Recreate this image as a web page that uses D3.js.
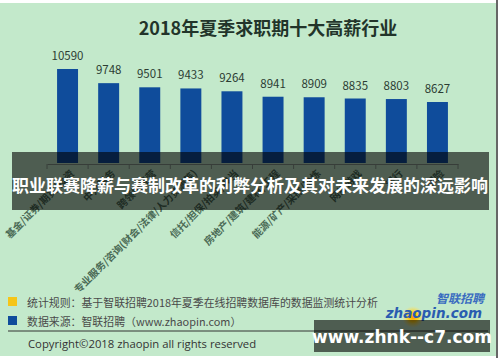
<!DOCTYPE html>
<html><head><meta charset="utf-8">
<script src="https://cdn.jsdelivr.net/npm/d3@7"></script>
<style>html,body{margin:0;padding:0;background:#fff;}svg{display:block;}</style>
</head><body>
<script>
const title = "2018年夏季求职期十大高薪行业";
const categories = ["基金/证券/期货/投资","中介服务","跨领域经营","专业服务/咨询(财会/法律/人力资源等)","信托/担保/拍卖/典当","房地产/建筑/建材/工程","能源/矿产/采掘/冶炼","网络游戏","银行","保险"];
const values = [10590, 9748, 9501, 9433, 9264, 8941, 8909, 8835, 8803, 8627];
const legendItems = ["统计规则：基于智联招聘2018年夏季在线招聘数据库的数据监测统计分析", "数据来源：智联招聘（www.zhaopin.com）"];
const legendColors = ["#f5c518", "#0f4c9b"];
const copyright = "Copyright©2018 zhaopin all rights reserved";
const overlayTitle = "职业联赛降薪与赛制改革的利弊分析及其对未来发展的深远影响";
const watermark = "www.zhnk--c7.com";

const W = 500, H = 362;
const FONT = "'Noto Sans CJK SC','Noto Sans',sans-serif";
const svg = d3.select("body").append("svg").attr("width", W).attr("height", H)
  .style("font-family", FONT);

svg.append("rect").attr("x",0).attr("y",3).attr("width",496).attr("height",353).attr("fill","#c3e9cb");
svg.append("line").attr("x1",497).attr("x2",497).attr("y1",0).attr("y2",358).attr("stroke","#333").attr("stroke-width",1.5);

svg.append("text").attr("x",268).attr("y",27).attr("text-anchor","middle").attr("dominant-baseline","central")
  .attr("font-size",18).attr("font-weight","bold").attr("fill","#22342a").text(title);

const x = d3.scaleBand().domain(categories).range([47, 458]).paddingInner(0.49).paddingOuter(0.245);
const y = d3.scaleLinear().domain([5000, 11000]).range([163, 62.1]);

const g = svg.append("g");
g.selectAll("rect.bar").data(values).join("rect").attr("class","bar")
  .attr("x",(d,i)=>x(categories[i])).attr("width",x.bandwidth())
  .attr("y",d=>y(d)).attr("height",d=>y(5000)-y(d)).attr("fill","#0f4c9b");

g.selectAll("text.val").data(values).join("text").attr("class","val")
  .attr("x",(d,i)=>x(categories[i])+x.bandwidth()/2).attr("y",d=>y(d)-14)
  .attr("text-anchor","middle").attr("dominant-baseline","central")
  .attr("font-size",11.5).attr("fill","#2c3d33").text(d=>d);

// axis
const axis = d3.axisBottom(x).tickSize(0).tickFormat("");
const ax = svg.append("g").attr("transform","translate(0,164)").call(axis);
ax.select(".domain").attr("stroke","#8a9a8f").attr("stroke-width",1);
const step = x.step();
const bounds = d3.range(categories.length+1).map(i=>47+i*step);
ax.selectAll("line.tk").data(bounds).join("line").attr("class","tk")
  .attr("x1",d=>d).attr("x2",d=>d).attr("y1",0).attr("y2",5).attr("stroke","#8a9a8f");

svg.append("g").selectAll("text.cat").data(categories).join("text").attr("class","cat")
  .attr("transform",(d)=>`translate(${x(d)+x.bandwidth()/2+4},${171}) rotate(-45)`)
  .attr("text-anchor","end").attr("dominant-baseline","central")
  .attr("font-size",10).attr("font-weight","bold").attr("fill","#4b6b56").text(d=>d);

// overlay banner
svg.append("rect").attr("x",12).attr("y",152).attr("width",477).attr("height",58).attr("fill","#000").attr("opacity",0.6);
svg.append("text").attr("x",250).attr("y",184).attr("text-anchor","middle").attr("dominant-baseline","central")
  .attr("font-size",17).attr("font-weight","bold").attr("fill","#fff").text(overlayTitle);

// legend
const lg = svg.append("g");
legendItems.forEach((t,i)=>{
  lg.append("rect").attr("x",8).attr("y",297+i*19).attr("width",9).attr("height",9).attr("fill",legendColors[i]);
  lg.append("text").attr("x",27).attr("y",302+i*19).attr("dominant-baseline","central")
    .attr("font-size",10.9).attr("fill","#4a4a4a").text(t);
});
svg.append("line").attr("x1",8).attr("x2",488).attr("y1",331).attr("y2",331).attr("stroke","#333").attr("stroke-width",1);
svg.append("text").attr("x",28).attr("y",343).attr("dominant-baseline","central")
  .attr("font-size",11.3).attr("fill","#333").style("font-family","'Open Sans',sans-serif").text(copyright);

// logo
const defs = svg.append("defs");
const rg = defs.append("radialGradient").attr("id","glow");
rg.append("stop").attr("offset","0%").attr("stop-color","#ff9a00");
rg.append("stop").attr("offset","45%").attr("stop-color","#ffd21a");
rg.append("stop").attr("offset","100%").attr("stop-color","#ffe066").attr("stop-opacity",0);
svg.append("circle").attr("cx",413).attr("cy",317).attr("r",11).attr("fill","url(#glow)");
svg.append("text").attr("x",484).attr("y",297).attr("text-anchor","end").attr("dominant-baseline","central")
  .attr("font-size",12).attr("font-weight","bold").attr("font-style","italic").attr("fill","#3a6cc0").text("智联招聘");
svg.append("text").attr("x",482).attr("y",313).attr("text-anchor","end").attr("dominant-baseline","central")
  .attr("font-size",13.5).attr("font-weight","bold").attr("font-style","italic").attr("fill","#2a5cb0")
  .style("font-family","'DejaVu Sans',sans-serif").text("zhaopin.com");

// watermark
svg.append("rect").attr("x",314).attr("y",320).attr("width",176).attr("height",32).attr("fill","#000").attr("opacity",0.6);
svg.append("text").attr("x",402).attr("y",337).attr("text-anchor","middle").attr("dominant-baseline","central")
  .attr("font-size",17).attr("font-weight","bold").attr("fill","#fff").style("font-family","'DejaVu Sans',sans-serif").text(watermark);
</script>
</body></html>
